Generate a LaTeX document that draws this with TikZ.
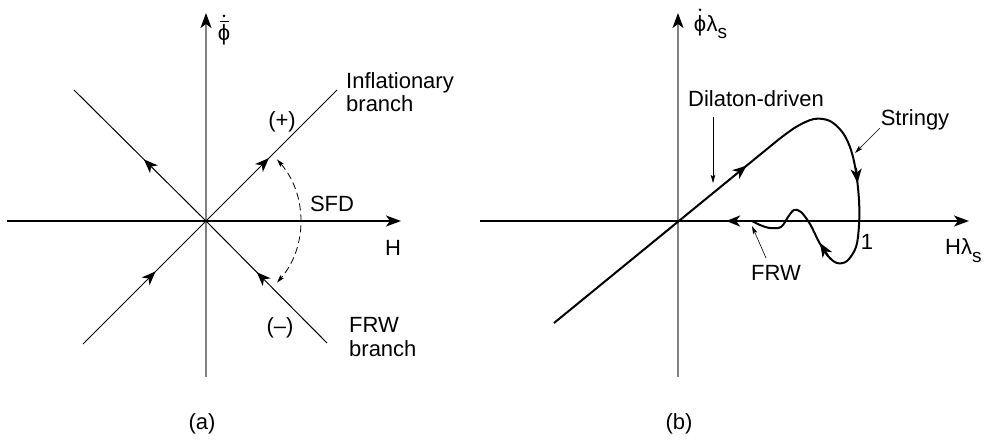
\documentclass[tikz,border=0pt]{standalone}
\usepackage{fontspec}
\setmainfont{Liberation Sans}
\usetikzlibrary{arrows.meta,decorations.markings}
\begin{document}
\begin{tikzpicture}[x=1pt,y=-1pt,
  bigtip/.style={-{Stealth[length=15pt,width=11pt,inset=4pt,black]}},
  haxis/.style={line width=1.2pt,black,bigtip},
  vaxis/.style={line width=1.5pt,gray,bigtip},
  diag/.style={line width=1pt,black},
  curve/.style={line width=2pt,black,line join=round},
  midtip/.style={-{Stealth[length=14pt,width=11pt,inset=4pt]}},
  midarrow/.style={postaction={decorate},decoration={markings,
     mark=at position #1 with {\arrow{Stealth[length=14pt,width=11pt,inset=4pt]}}}},
  thinarrow/.style={line width=0.6pt,-{Stealth[length=8pt,width=4.5pt,inset=1.5pt]}},
  dasharc/.style={line width=0.8pt,dash pattern=on 7pt off 4pt,
     {Stealth[length=8pt,width=4.5pt,inset=1.5pt]}-{Stealth[length=8pt,width=4.5pt,inset=1.5pt]}},
  lbl/.style={font=\fontsize{22}{26}\selectfont,inner sep=0pt}]
\useasboundingbox[fill=white] (0,0) rectangle (985,439);

% ---------- panel (a) ----------
\coordinate (Oa) at (206,221);
\coordinate (NWa) at (74,90);
\coordinate (NEa) at (337,90);
\coordinate (SWa) at (83,344);
\coordinate (SEa) at (327,343);
\draw[vaxis] (206,377) -- (206,13);
\draw[haxis] (7,221) -- (401,221);
\draw[diag,midarrow=0.47] (Oa) -- (NWa);
\draw[diag,midarrow=0.48] (Oa) -- (NEa);
\draw[diag,midarrow=0.59] (SWa) -- (Oa);
\draw[diag,midarrow=0.58] (SEa) -- (Oa);
\draw[dasharc] ([shift={(-41:94)}]Oa) arc[start angle=-41,end angle=41,radius=94];

\node[lbl,anchor=base] (phia) at (224,40) {ϕ};
\draw[line width=1pt] ([xshift=-4.5pt,yshift=2pt]phia.north) -- ([xshift=4.5pt,yshift=2pt]phia.north);
\fill ([yshift=8pt]phia.north) circle (1.4pt);

\node[lbl,anchor=base west] at (346,88) {Inflationary};
\node[lbl,anchor=base west] at (346,111) {branch};
\node[lbl] at (282,122) {(+)};
\node[lbl] at (332,204) {SFD};
\node[lbl] at (393,248) {H};
\node[lbl] at (280,328) {(–)};
\node[lbl,anchor=base west] at (349,332) {FRW};
\node[lbl,anchor=base west] at (349,356) {branch};
\node[lbl] at (202,424) {(a)};

% ---------- panel (b) ----------
\coordinate (Ob) at (678,221);
\coordinate (Sb) at (554,323);
\coordinate (Kb) at (778,140);
\coordinate (Eb) at (752,221);
\draw[vaxis] (678,377) -- (678,13);
\draw[haxis] (480,221) -- (969,221);
\draw[curve,midarrow=0.86] (Sb) -- (Kb);
\draw[curve] plot[smooth,tension=0.55] coordinates {
  (778,140) (796,127) (814,119) (830,121) (843,133) (851,150) (856,172)
  (859,200) (859,225) (856,247) (847,261) (837,263) (828,256) (819,242)
  (810,224) (801,212) (794,210) (788,217) (781,227) (770,228) (760,225) (752,221)};
\draw[curve,midarrow=0.35] (Eb) -- (Ob);
\draw[curve,midtip] (856,168) -- (857.5,183);
\draw[curve,midtip] (828,256) -- (820,243);

\draw[thinarrow] (713,117) -- (713,183);
\draw[thinarrow] (880,128) -- (855,153);
\draw[thinarrow] (766,258) -- (752,226);

\node[lbl,anchor=base] (phib) at (700,31) {ϕ};
\node[lbl,anchor=base west] at (phib.base east) {λ\raisebox{-7pt}{\fontsize{19}{19}\selectfont s}};
\fill ([yshift=5pt]phib.north) circle (1.4pt);

\node[lbl,anchor=base] at (756,106) {Dilaton-driven};
\node[lbl,anchor=base] at (915,125) {Stringy};
\node[lbl] at (867,242) {1};
\node[lbl,anchor=base west] at (945,254) {Hλ\raisebox{-8pt}{\fontsize{19}{19}\selectfont s}};
\node[lbl,anchor=base] at (776,280) {FRW};
\node[lbl] at (679,424) {(b)};
\end{tikzpicture}
\end{document}
